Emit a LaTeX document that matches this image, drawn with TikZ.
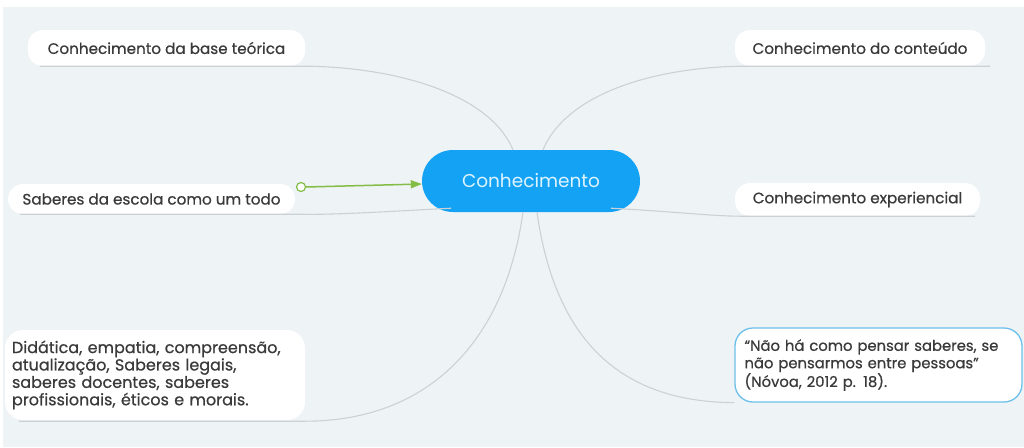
\documentclass[tikz,border=0pt]{standalone}
\usepackage{fontspec}
\setmainfont{Poppins}[FakeBold=0.6]
\newfontfamily\hubfont{Poppins}
\usetikzlibrary{arrows.meta,calc}
\definecolor{bg}{HTML}{EEF3F6}
\definecolor{hub}{HTML}{14A3F4}
\definecolor{hubtxt}{HTML}{DDF3FF}
\definecolor{link}{HTML}{CCD1D6}
\definecolor{txt}{HTML}{3A3A3A}
\definecolor{grn}{HTML}{84BD45}
\definecolor{qb}{HTML}{6CC0EA}
\begin{document}
\begin{tikzpicture}[x=1pt,y=-1pt,
  topic/.style={fill=white, rounded corners=15pt, text=txt, font=\fontsize{15.2}{17}\selectfont, inner sep=0pt, align=center},
  multi/.style={fill=white, rounded corners=18pt, text=txt, inner sep=0pt, align=left},
  branch/.style={draw=link, line width=1.1pt}
]
\useasboundingbox (0,0) rectangle (1024,447);
\fill[white] (0,0) rectangle (1024,447);
\fill[bg] (3,7) rectangle (1024,447);

% nodes
\node[fill=hub, rounded corners=31pt, minimum width=218pt, minimum height=62pt, text=hubtxt, font=\hubfont\fontsize{18.5}{20}\selectfont] (c) at (531,181) {Conhecimento};
\node[topic, minimum width=277pt, minimum height=36pt] (tl) at (166.5,48) {Conhecimento da base teórica};
\node[topic, minimum width=250pt, minimum height=36pt] (tr) at (860,48) {Conhecimento do conteúdo};
\node[topic, minimum width=287pt, minimum height=30pt] (ml) at (151.5,199) {Saberes da escola como um todo};
\node[topic, minimum width=245pt, minimum height=33pt] (mr) at (857.5,199.5) {Conhecimento experiencial};
\node[multi, font=\fontsize{16}{17.4}\selectfont, minimum width=300pt, minimum height=90pt, text width=286pt, inner xsep=7pt] (bl) at (155,375) {Didática, empatia, compreensão,\\atualização, Saberes legais,\\saberes docentes, saberes\\profissionais, éticos e morais.};
\node[multi, font=\fontsize{14.8}{17.4}\selectfont, draw=qb, line width=1.3pt, minimum width=287pt, minimum height=74pt, text width=268pt, inner xsep=0pt] (br) at (878.5,365) {``Não há como pensar saberes, se\\não pensarmos entre pessoas''\\(Nóvoa, 2012 p. 18).};

% branches
\draw[branch] ([xshift=-18pt]c.north) .. controls (490,95) and (400,68) .. ([xshift=4pt]tl.south east) -- ([xshift=12pt]tl.south west);
\draw[branch] ([xshift=12pt]c.north) .. controls (566,95) and (650,68) .. ([xshift=5pt]tr.south west) -- ([xshift=5pt]tr.south east);
\draw[branch] ([xshift=-80pt,yshift=4pt]c.south) .. controls (380,212) and (330,215) .. ([xshift=5pt]ml.south east) -- ([xshift=12pt]ml.south west);
\draw[branch] ([xshift=80pt,yshift=4pt]c.south) .. controls (680,212) and (710,216) .. ([xshift=5pt]mr.south west) -- ([xshift=-5pt]mr.south east);
\draw[branch] ([xshift=-8pt]c.south) .. controls (505,340) and (430,421) .. ([yshift=-1pt]bl.south east) -- ([xshift=14pt,yshift=-1pt]bl.south west);
\draw[branch] ([xshift=6pt]c.south) .. controls (555,340) and (620,402) .. (br.south west);

% relation
\node[draw=grn, fill=white, circle, line width=1.2pt, minimum size=9pt, inner sep=0pt] (g) at (301,187) {};
\draw[grn, line width=1.5pt, -{Triangle[length=11pt,width=8pt]}] (g.east) -- ([yshift=-3pt]c.west);
\end{tikzpicture}
\end{document}
